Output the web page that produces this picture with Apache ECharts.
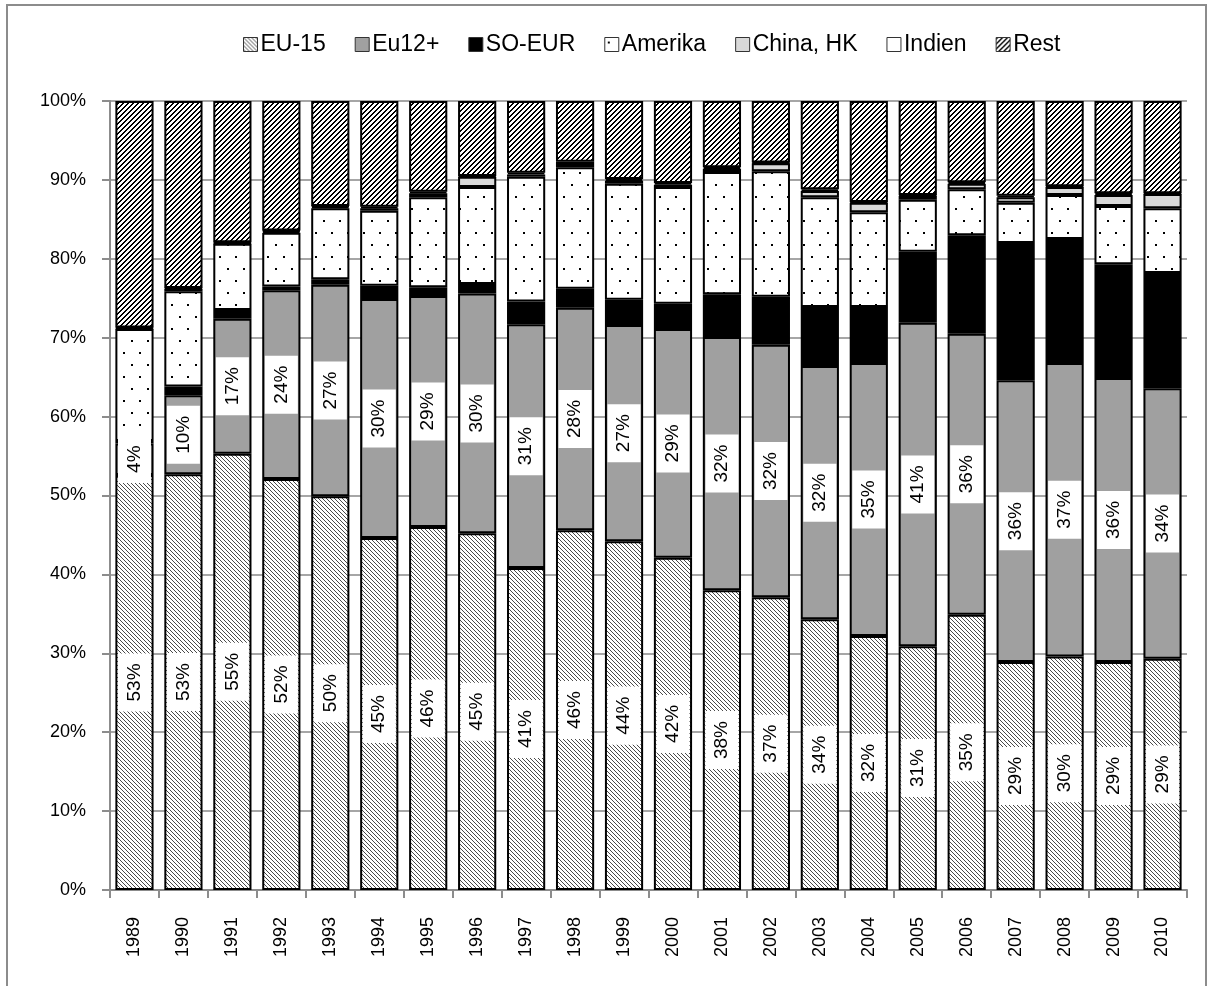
<!DOCTYPE html>
<html>
<head>
<meta charset="utf-8">
<script src="https://cdn.jsdelivr.net/npm/echarts@6/dist/echarts.min.js"></script>
<style>
  html, body { margin: 0; padding: 0; background: #fff; }
  #chart { width: 1213px; height: 986px; }
</style>
</head>
<body>
<div id="chart"></div>
<script>
const years = ['1989', '1990', '1991', '1992', '1993', '1994', '1995', '1996', '1997', '1998', '1999',
  '2000', '2001', '2002', '2003', '2004', '2005', '2006', '2007', '2008', '2009', '2010'];

// shares in percent
const eu15 = [52.6, 52.7, 55.3, 52.1, 49.9, 44.6, 46.0, 45.2, 40.8, 45.6, 44.2, 42.1, 38.0, 37.1, 34.3, 32.2, 30.9, 34.9, 28.9, 29.6, 28.9, 29.3];
const eu12 = [4.0, 10.0, 17.1, 23.9, 26.8, 30.3, 29.3, 30.4, 30.9, 28.2, 27.4, 29.0, 32.1, 32.0, 32.1, 34.6, 41.0, 35.6, 35.7, 37.2, 36.0, 34.3];
const soEur = [0.3, 1.1, 1.1, 0.5, 0.7, 1.7, 1.1, 1.2, 2.9, 2.4, 3.2, 3.2, 5.4, 6.1, 7.5, 7.1, 9.0, 12.5, 17.4, 15.7, 14.4, 14.6];
const amerika = [14.2, 12.1, 8.4, 6.8, 9.0, 9.5, 11.4, 12.3, 15.8, 15.4, 14.7, 14.8, 15.5, 15.9, 13.9, 12.0, 6.6, 5.8, 5.1, 5.6, 7.4, 8.2];
const chinaHk = [0.1, 0.3, 0.1, 0.2, 0.2, 0.3, 0.5, 1.3, 0.3, 0.4, 0.4, 0.3, 0.4, 1.0, 0.8, 1.2, 0.5, 0.7, 0.7, 1.0, 1.4, 1.8];
const indien = [0.1, 0.1, 0.1, 0.1, 0.1, 0.2, 0.2, 0.1, 0.2, 0.3, 0.2, 0.2, 0.2, 0.1, 0.2, 0.1, 0.1, 0.2, 0.2, 0.1, 0.2, 0.1];
const rest = [28.7, 23.7, 17.9, 16.4, 13.3, 13.4, 11.5, 9.5, 9.1, 7.7, 9.9, 10.4, 8.4, 7.8, 11.2, 12.8, 11.9, 10.3, 12.0, 10.8, 11.7, 11.7];

const FONT = 'Liberation Sans, Arial, sans-serif';

// small tiles used as fill patterns (Excel-like hatching)
function makePattern(w, h, draw) {
  const c = document.createElement('canvas');
  c.width = w;
  c.height = h;
  const ctx = c.getContext('2d');
  ctx.fillStyle = '#fff';
  ctx.fillRect(0, 0, w, h);
  draw(ctx);
  return { image: c, repeat: 'repeat' };
}

const lightDown = makePattern(4, 4, function (ctx) {
  ctx.fillStyle = '#4a4a4a';
  for (let i = 0; i < 4; i++) ctx.fillRect(i, i, 1, 1);
});

const darkUp = makePattern(5, 5, function (ctx) {
  ctx.fillStyle = '#000';
  for (let y = 0; y < 5; y++) {
    for (let x = 0; x < 5; x++) {
      if ((x + y) % 5 < 2) ctx.fillRect(x, y, 1, 1);
    }
  }
});

const dots = makePattern(16, 24, function (ctx) {
  ctx.fillStyle = '#000';
  ctx.fillRect(3, 4, 2, 2);
  ctx.fillRect(11, 16, 2, 2);
});

function stackBar(name, data, color, withLabel) {
  return {
    name: name,
    type: 'bar',
    stack: 'total',
    data: data,
    barCategoryGap: '22%',
    itemStyle: { color: color, borderColor: '#000', borderWidth: 2 },
    label: withLabel ? {
      show: true,
      position: 'inside',
      rotate: 90,
      formatter: function (p) { return Math.round(p.value) + '%'; },
      color: '#000',
      fontFamily: FONT,
      fontSize: 19,
      lineHeight: 19,
      backgroundColor: '#fff',
      padding: [7, 10]
    } : { show: false },
    emphasis: { disabled: true }
  };
}

const chart = echarts.init(document.getElementById('chart'));

chart.setOption({
  animation: false,
  backgroundColor: '#fff',
  textStyle: { fontFamily: FONT },
  graphic: [{
    type: 'rect',
    shape: { x: 7, y: 5, width: 1199, height: 995 },
    style: { fill: 'none', stroke: '#8c8c8c', lineWidth: 2 },
    silent: true
  }],
  legend: {
    top: 28,
    left: 238,
    itemWidth: 14,
    itemHeight: 14,
    itemGap: 29,
    icon: 'rect',
    itemStyle: { borderColor: '#333', borderWidth: 1 },
    textStyle: { fontFamily: FONT, fontSize: 23, color: '#000', padding: [0, 0, 0, -2] },
    data: ['EU-15', 'Eu12+', 'SO-EUR', 'Amerika', 'China, HK', 'Indien', 'Rest']
  },
  grid: { left: 110, right: 26, top: 101, bottom: 96, containLabel: false },
  xAxis: {
    type: 'category',
    data: years,
    axisLine: { lineStyle: { color: '#8c8c8c', width: 2 } },
    axisTick: { show: true, length: 8, lineStyle: { color: '#8c8c8c', width: 2 } },
    axisLabel: { rotate: 90, fontFamily: FONT, fontSize: 18, color: '#000', margin: 27 }
  },
  yAxis: {
    type: 'value',
    min: 0,
    max: 100,
    interval: 10,
    axisLine: { show: true, lineStyle: { color: '#8c8c8c', width: 2 } },
    axisTick: { show: true, length: 8, lineStyle: { color: '#8c8c8c', width: 2 } },
    axisLabel: { formatter: '{value}%', fontFamily: FONT, fontSize: 18, color: '#000', margin: 24 },
    splitLine: { lineStyle: { color: '#a6a6a6', width: 2 } }
  },
  series: [
    stackBar('EU-15', eu15, lightDown, true),
    stackBar('Eu12+', eu12, '#a0a0a0', true),
    stackBar('SO-EUR', soEur, '#000', false),
    stackBar('Amerika', amerika, dots, false),
    stackBar('China, HK', chinaHk, '#d9d9d9', false),
    stackBar('Indien', indien, '#fff', false),
    stackBar('Rest', rest, darkUp, false)
  ]
});
</script>
</body>
</html>
